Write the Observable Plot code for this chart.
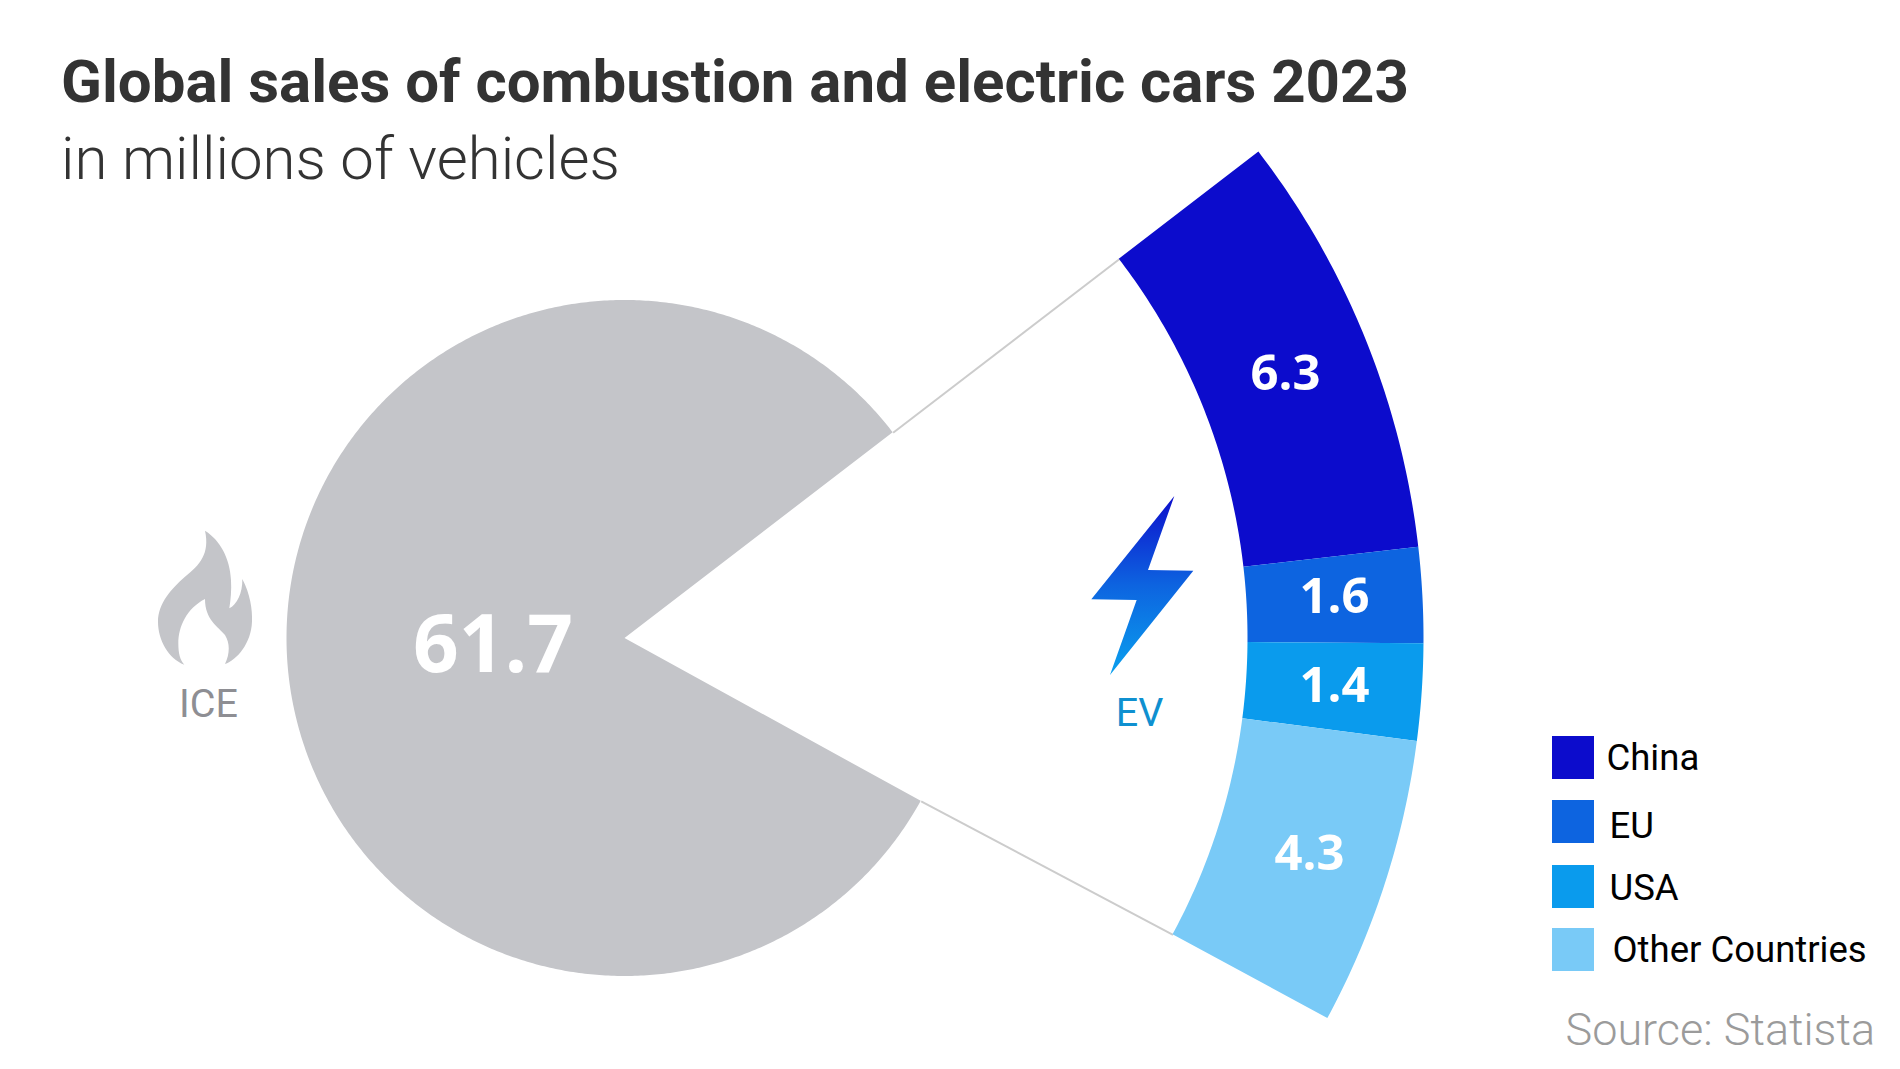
<!DOCTYPE html>
<html>
<head>
<meta charset="utf-8">
<script src="https://cdn.jsdelivr.net/npm/d3@7"></script>
<script src="https://cdn.jsdelivr.net/npm/@observablehq/plot@0.6"></script>
<style>
  html, body { margin: 0; padding: 0; background: #fff; overflow: hidden; }
  #page { position: relative; width: 1900px; height: 1069px; font-family: Roboto, sans-serif; }
  #page svg { display: block; position: absolute; left: 0; top: 0; background: #fff; }
  #title { position: absolute; z-index: 2; left: 61px; top: 47px; margin: 0; font-size: 60px; line-height: 70px; font-weight: 700; color: #333; white-space: nowrap; }
  #subtitle { position: absolute; z-index: 2; left: 61px; top: 124px; margin: 0; font-size: 59.9px; line-height: 70px; font-weight: 300; color: #333; white-space: nowrap; }
</style>
</head>
<body>
<div id="page">
  <h1 id="title">Global sales of combustion and electric cars 2023</h1>
  <p id="subtitle">in millions of vehicles</p>
</div>
<script>
// ---- data ----
const regions = ["China", "EU", "USA", "Other Countries"];
const evSales = [6.3, 1.6, 1.4, 4.3];          // as printed on the chart
const evArcValues = [6.38, 1.43, 1.45, 4.33];  // arc lengths, in the same unit
const iceSales = 61.7;
const groupLabels = ["ICE", "EV"];
const sourceText = "Source: Statista";

// ---- colours ----
const regionColors = ["#0c0ccc", "#0d64e0", "#0a9bed", "#79caf7"];
const iceColor = "#c4c5c9";

// ---- layout ----
const W = 1900, H = 1069;
const cx = 624.5, cy = 638;
const rIce = 338, rInner = 623, rOuter = 799;
const startDeg = 37.5;          // upper edge of the EV fan, above horizontal
const iceGapExtra = 0.4;        // the grey circle's lower edge sits slightly below the fan's
const degPerUnit = 65.9 / d3.sum(evArcValues);
const rad = d => d * Math.PI / 180;
const px = (r, a) => cx + r * Math.cos(rad(a));
const py = (r, a) => cy - r * Math.sin(rad(a));

function sector(name, a0, a1, r0, r1) {
  const n = Math.max(2, Math.ceil(Math.abs(a1 - a0) * 2));
  return d3.range(n + 1).map(i => {
    const a = a0 + (a1 - a0) * i / n;
    return { name, x1: px(r0, a), y1: py(r0, a), x2: px(r1, a), y2: py(r1, a) };
  });
}
let cursor = startDeg;
const segs = regions.map((name, i) => {
  const a0 = cursor, a1 = cursor - evArcValues[i] * degPerUnit;
  cursor = a1;
  return { name, a0, a1 };
});
const endDeg = cursor;
const iceEndDeg = endDeg - iceGapExtra;
const sectorPts = segs.flatMap(s => sector(s.name, s.a0, s.a1, rInner, rOuter));
const icePts = sector("ICE", startDeg, 360 + iceEndDeg, 0, rIce);

const labelCX = [1285, 1334, 1334, 1309];
const labelBase = [389, 612.5, 701.5, 869];
const evLabels = evSales.map((v, i) => ({ x: labelCX[i], y: labelBase[i], text: d3.format(".1f")(v) }));

const legendTop = [736, 800, 865, 928];
const legendBase = [769, 837, 899, 961];
const legendTextX = [1606, 1609, 1609, 1612];
const legend = regions.map((name, i) => ({ name, y1: legendTop[i], y2: legendTop[i] + 43, base: legendBase[i], tx: legendTextX[i] }));

const edges = [
  { x1: px(rIce, startDeg), y1: py(rIce, startDeg), x2: px(rInner, startDeg), y2: py(rInner, startDeg) },
  { x1: px(rIce, iceEndDeg), y1: py(rIce, iceEndDeg), x2: px(rInner, endDeg), y2: py(rInner, endDeg) }
];

const flamePath = "M225 92C270 120 300 175 303 240C305 270 302 300 298 325C320 315 338 280 337 237C360 280 368 330 366 365C364 430 320 480 285 492C300 460 300 430 285 405C265 380 225 360 225 297C170 325 145 380 145 430C145 460 150 480 163 494C115 475 84 420 84 365C84 310 125 265 165 230C210 195 240 160 225 92Z";
const boltPath = "M343 48L94 358L230 360L150 585L400 272L264 270Z";

function icons() {
  const g = d3.create("svg:g");
  const grad = g.append("defs").append("linearGradient")
    .attr("id", "boltGrad").attr("x1", 0).attr("y1", 0).attr("x2", 0).attr("y2", 1);
  grad.append("stop").attr("offset", "0%").attr("stop-color", "#0d0fcc");
  grad.append("stop").attr("offset", "50%").attr("stop-color", "#0d64e0");
  grad.append("stop").attr("offset", "100%").attr("stop-color", "#0aa0ee");
  g.append("path").attr("d", flamePath).attr("fill", iceColor)
    .attr("transform", "translate(130,500) scale(0.3333)");
  g.append("path").attr("d", boltPath).attr("fill", "url(#boltGrad)")
    .attr("transform", "translate(1060,480) scale(0.3333)");
  return g.node();
}

const chart = Plot.plot({
  width: W, height: H,
  margin: 0,
  style: { background: "#fff", fontFamily: "Roboto, sans-serif" },
  x: { domain: [0, W], range: [0, W], axis: null },
  y: { domain: [0, H], range: [0, H], axis: null },
  color: { domain: ["ICE", ...regions], range: [iceColor, ...regionColors] },
  marks: [
    Plot.area(icePts, { x1: "x1", y1: "y1", x2: "x2", y2: "y2", fill: "name", z: "name", curve: "linear" }),
    Plot.link(edges, { x1: "x1", y1: "y1", x2: "x2", y2: "y2", stroke: "#cccccc", strokeWidth: 2 }),
    Plot.area(sectorPts, { x1: "x1", y1: "y1", x2: "x2", y2: "y2", fill: "name", z: "name", curve: "linear" }),
    icons,
    Plot.text(evLabels, { x: "x", y: "y", text: "text", fill: "#fff", fontSize: 49, fontWeight: 700, fontFamily: "'Open Sans', sans-serif", textAnchor: "middle", lineAnchor: "bottom" }),
    Plot.text([iceSales], { x: () => 492.5, y: () => 671.5, text: d => d3.format(".1f")(d), fill: "#fff", fontSize: 80, fontWeight: 700, fontFamily: "'Open Sans', sans-serif", textAnchor: "middle", lineAnchor: "bottom" }),
    Plot.text([groupLabels[0]], { x: () => 208, y: () => 716, text: d => d, fill: "#8e8e93", fontSize: 39.5, textAnchor: "middle", lineAnchor: "bottom" }),
    Plot.text([groupLabels[1]], { x: () => 1139, y: () => 725, text: d => d, fill: "#0f90d0", fontSize: 39.5, textAnchor: "middle", lineAnchor: "bottom" }),
    Plot.rect(legend, { x1: () => 1552, x2: () => 1594, y1: "y1", y2: "y2", fill: "name" }),
    Plot.text(legend, { x: "tx", y: "base", text: "name", fill: "#000", fontSize: 36.5, textAnchor: "start", lineAnchor: "bottom" }),
    Plot.text([sourceText], { x: () => 1565, y: () => 1044, text: d => d, fill: "#9b9b9b", fontSize: 45, fontWeight: 300, textAnchor: "start", lineAnchor: "bottom" })
  ]
});
document.getElementById("page").appendChild(chart);
</script>
</body>
</html>
